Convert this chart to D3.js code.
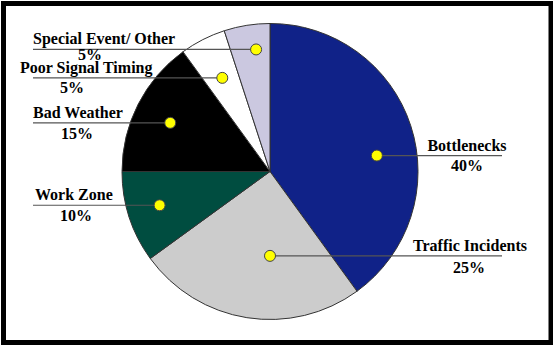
<!DOCTYPE html>
<html>
<head>
<meta charset="utf-8">
<script src="https://cdn.jsdelivr.net/npm/d3@7"></script>
<style>
  body { margin: 0; background: #fff; }
  svg { display: block; }
  text { font-family: "Liberation Serif", "DejaVu Serif", serif; font-weight: bold; font-size: 16px; fill: #000; }
</style>
</head>
<body>
<script>
// categories, clockwise from 12 o'clock
var categories = ['Bottlenecks', 'Traffic Incidents', 'Work Zone', 'Bad Weather', 'Poor Signal Timing', 'Special Event/ Other']
var shares = [40, 25, 10, 15, 5, 5]
var pctLabels = ['40%', '25%', '10%', '15%', '5%', '5%']

var colors = ['#102288', '#cccccc', '#004d40', '#000000', '#ffffff', '#cbc8e0']

// where the yellow dot sits inside each slice (angle nudge in degrees, fraction of radius)
var dotNudge = [9.5, -9, 1, -1, 0, 2.5]
var dotFrac = [0.73, 0.57, 0.78, 0.75, 0.71, 0.83]

// label side and text placement
var side = ['right', 'right', 'left', 'left', 'left', 'left']
var nameX = [467, 470, 35, 33, 20, 33]
var pctX = [467, 469, 76, 77, 72, 90]
var pctDy = [15, 17, 16, 16, 15, 11]

var width = 553, height = 345
var cx = 270, cy = 171.5, r = 148

var svg = d3.select('body').append('svg')
  .attr('width', width)
  .attr('height', height)

// frame
svg.append('rect')
  .attr('x', 3.5).attr('y', 3.5)
  .attr('width', 547.5).attr('height', 339)
  .attr('fill', '#fff')
  .attr('stroke', '#000')
  .attr('stroke-width', 5)

var data = categories.map(function(c, i){
  return {name: c, value: shares[i], pct: pctLabels[i], i: i}
})

var pie = d3.pie().sort(null).value(function(d){ return d.value })
var arcs = pie(data)
var arc = d3.arc().innerRadius(0).outerRadius(r)

var g = svg.append('g').attr('transform', 'translate(' + cx + ',' + cy + ')')

g.selectAll('path.slice')
  .data(arcs)
  .enter().append('path')
  .attr('class', 'slice')
  .attr('d', arc)
  .attr('fill', function(d){ return colors[d.data.i] })
  .attr('stroke', '#333')
  .attr('stroke-width', 1)

// dot positions through d3.arc centroid
arcs.forEach(function(d){
  var i = d.data.i
  var mid = (d.startAngle + d.endAngle) / 2 + dotNudge[i] * Math.PI / 180
  var rr = r * dotFrac[i]
  var p = d3.arc().innerRadius(rr).outerRadius(rr).startAngle(mid).endAngle(mid).centroid()
  d.dot = [p[0] + cx, p[1] + cy]
})

var lineEndRight = 502, lineEndLeft = 33

// leader lines
svg.selectAll('line.leader')
  .data(arcs)
  .enter().append('line')
  .attr('class', 'leader')
  .attr('x1', function(d){ return d.dot[0] })
  .attr('y1', function(d){ return d.dot[1] })
  .attr('x2', function(d){ return side[d.data.i] == 'right' ? lineEndRight : lineEndLeft })
  .attr('y2', function(d){ return d.dot[1] })
  .attr('stroke', '#555')
  .attr('stroke-width', 1.2)

svg.selectAll('circle.dot')
  .data(arcs)
  .enter().append('circle')
  .attr('class', 'dot')
  .attr('cx', function(d){ return d.dot[0] })
  .attr('cy', function(d){ return d.dot[1] })
  .attr('r', 5.5)
  .attr('fill', '#ffff00')
  .attr('stroke', '#444')
  .attr('stroke-width', 1)

// names
svg.selectAll('text.name')
  .data(arcs)
  .enter().append('text')
  .attr('class', 'name')
  .attr('x', function(d){ return nameX[d.data.i] })
  .attr('y', function(d){ return d.dot[1] - 5 })
  .attr('text-anchor', function(d){ return side[d.data.i] == 'right' ? 'middle' : 'start' })
  .text(function(d){ return d.data.name })

// percentages
svg.selectAll('text.pct')
  .data(arcs)
  .enter().append('text')
  .attr('class', 'pct')
  .attr('x', function(d){ return pctX[d.data.i] })
  .attr('y', function(d){ return d.dot[1] + pctDy[d.data.i] })
  .attr('text-anchor', 'middle')
  .text(function(d){ return d.data.pct })
</script>
</body>
</html>
